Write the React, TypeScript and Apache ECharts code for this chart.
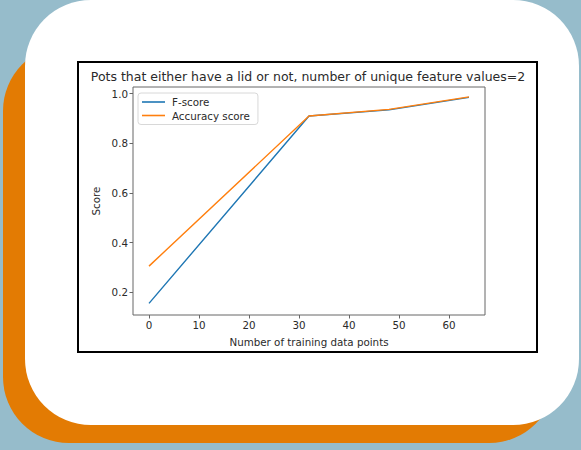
import React, { useEffect, useRef } from "react";
import * as echarts from "echarts";

const trainingPoints = [0, 32, 48, 64];
const fScore = [0.155, 0.91, 0.935, 0.985];
const accuracyScore = [0.305, 0.91, 0.937, 0.987];
const xTicks = [0, 10, 20, 30, 40, 50, 60];
const yTicks = [0.2, 0.4, 0.6, 0.8, 1.0];
const titleText = "Pots that either have a lid or not, number of unique feature values=2";

const FONT = "DejaVu Sans";

export default function App() {
  const ref = useRef<HTMLDivElement>(null);
  useEffect(() => {
    document.body.style.margin = "0";
    const chart = echarts.init(ref.current!, undefined, { renderer: "svg" });
    const tickStyle = { color: "#2a2a2a", fontFamily: FONT, fontSize: 10.3 };
    chart.setOption({
      animation: false,
      backgroundColor: "#96bccb",
      graphic: [
        {
          type: "rect",
          z: -30,
          shape: { x: 3, y: 45, width: 552, height: 398, r: 66 },
          style: { fill: "#e37b03" },
        },
        {
          type: "rect",
          z: -20,
          shape: { x: 25, y: 0, width: 554, height: 425, r: 66 },
          style: { fill: "#ffffff" },
        },
        {
          type: "rect",
          z: -10,
          shape: { x: 78, y: 62, width: 459, height: 290 },
          style: { fill: "#ffffff", stroke: "#000000", lineWidth: 2 },
        },
      ],
      title: {
        text: titleText,
        left: 308,
        top: 70,
        textAlign: "center",
        padding: 0,
        textStyle: { fontFamily: FONT, fontSize: 12.5, fontWeight: "normal", color: "#2a2a2a" },
      },
      legend: {
        left: 138,
        top: 93,
        orient: "vertical",
        icon: "rect",
        itemWidth: 23,
        itemHeight: 1.6,
        itemGap: 3.5,
        padding: [4, 8, 4, 4],
        borderColor: "#d8d8d8",
        borderWidth: 1,
        borderRadius: 3,
        backgroundColor: "rgba(255,255,255,0.8)",
        textStyle: { fontFamily: FONT, fontSize: 10.3, color: "#2a2a2a", padding: [0, 0, 0, 2] },
        data: ["F-score", "Accuracy score"],
      },
      grid: {
        left: 133,
        right: 96,
        top: 87,
        bottom: 135,
        show: true,
        borderColor: "#666",
        borderWidth: 1,
        backgroundColor: "transparent",
      },
      xAxis: {
        type: "value",
        min: -3.2,
        max: 67.2,
        name: "Number of training data points",
        nameLocation: "middle",
        nameGap: 22,
        nameTextStyle: tickStyle,
        axisLine: { show: false, onZero: false },
        splitLine: { show: false },
        axisTick: { show: true, length: 3.5, customValues: xTicks, lineStyle: { color: "#666" } },
        axisLabel: { customValues: xTicks, margin: 5, ...tickStyle },
      },
      yAxis: {
        type: "value",
        min: 0.108,
        max: 1.027,
        name: "Score",
        nameLocation: "middle",
        nameGap: 31,
        nameTextStyle: tickStyle,
        axisLine: { show: false, onZero: false },
        splitLine: { show: false },
        axisTick: { show: true, length: 3.5, customValues: yTicks, lineStyle: { color: "#666" } },
        axisLabel: {
          customValues: yTicks,
          margin: 5,
          formatter: (v: number) => v.toFixed(1),
          ...tickStyle,
        },
      },
      series: [
        {
          name: "F-score",
          type: "line",
          data: trainingPoints.map((x, i) => [x, fScore[i]]),
          showSymbol: false,
          lineStyle: { color: "#1f77b4", width: 1.4 },
          itemStyle: { color: "#1f77b4" },
        },
        {
          name: "Accuracy score",
          type: "line",
          data: trainingPoints.map((x, i) => [x, accuracyScore[i]]),
          showSymbol: false,
          lineStyle: { color: "#ff7f0e", width: 1.4 },
          itemStyle: { color: "#ff7f0e" },
        },
      ],
    });
    return () => chart.dispose();
  }, []);
  return (
    <div
      ref={ref}
      style={{ position: "fixed", left: 0, top: 0, width: 581, height: 450 }}
    />
  );
}
